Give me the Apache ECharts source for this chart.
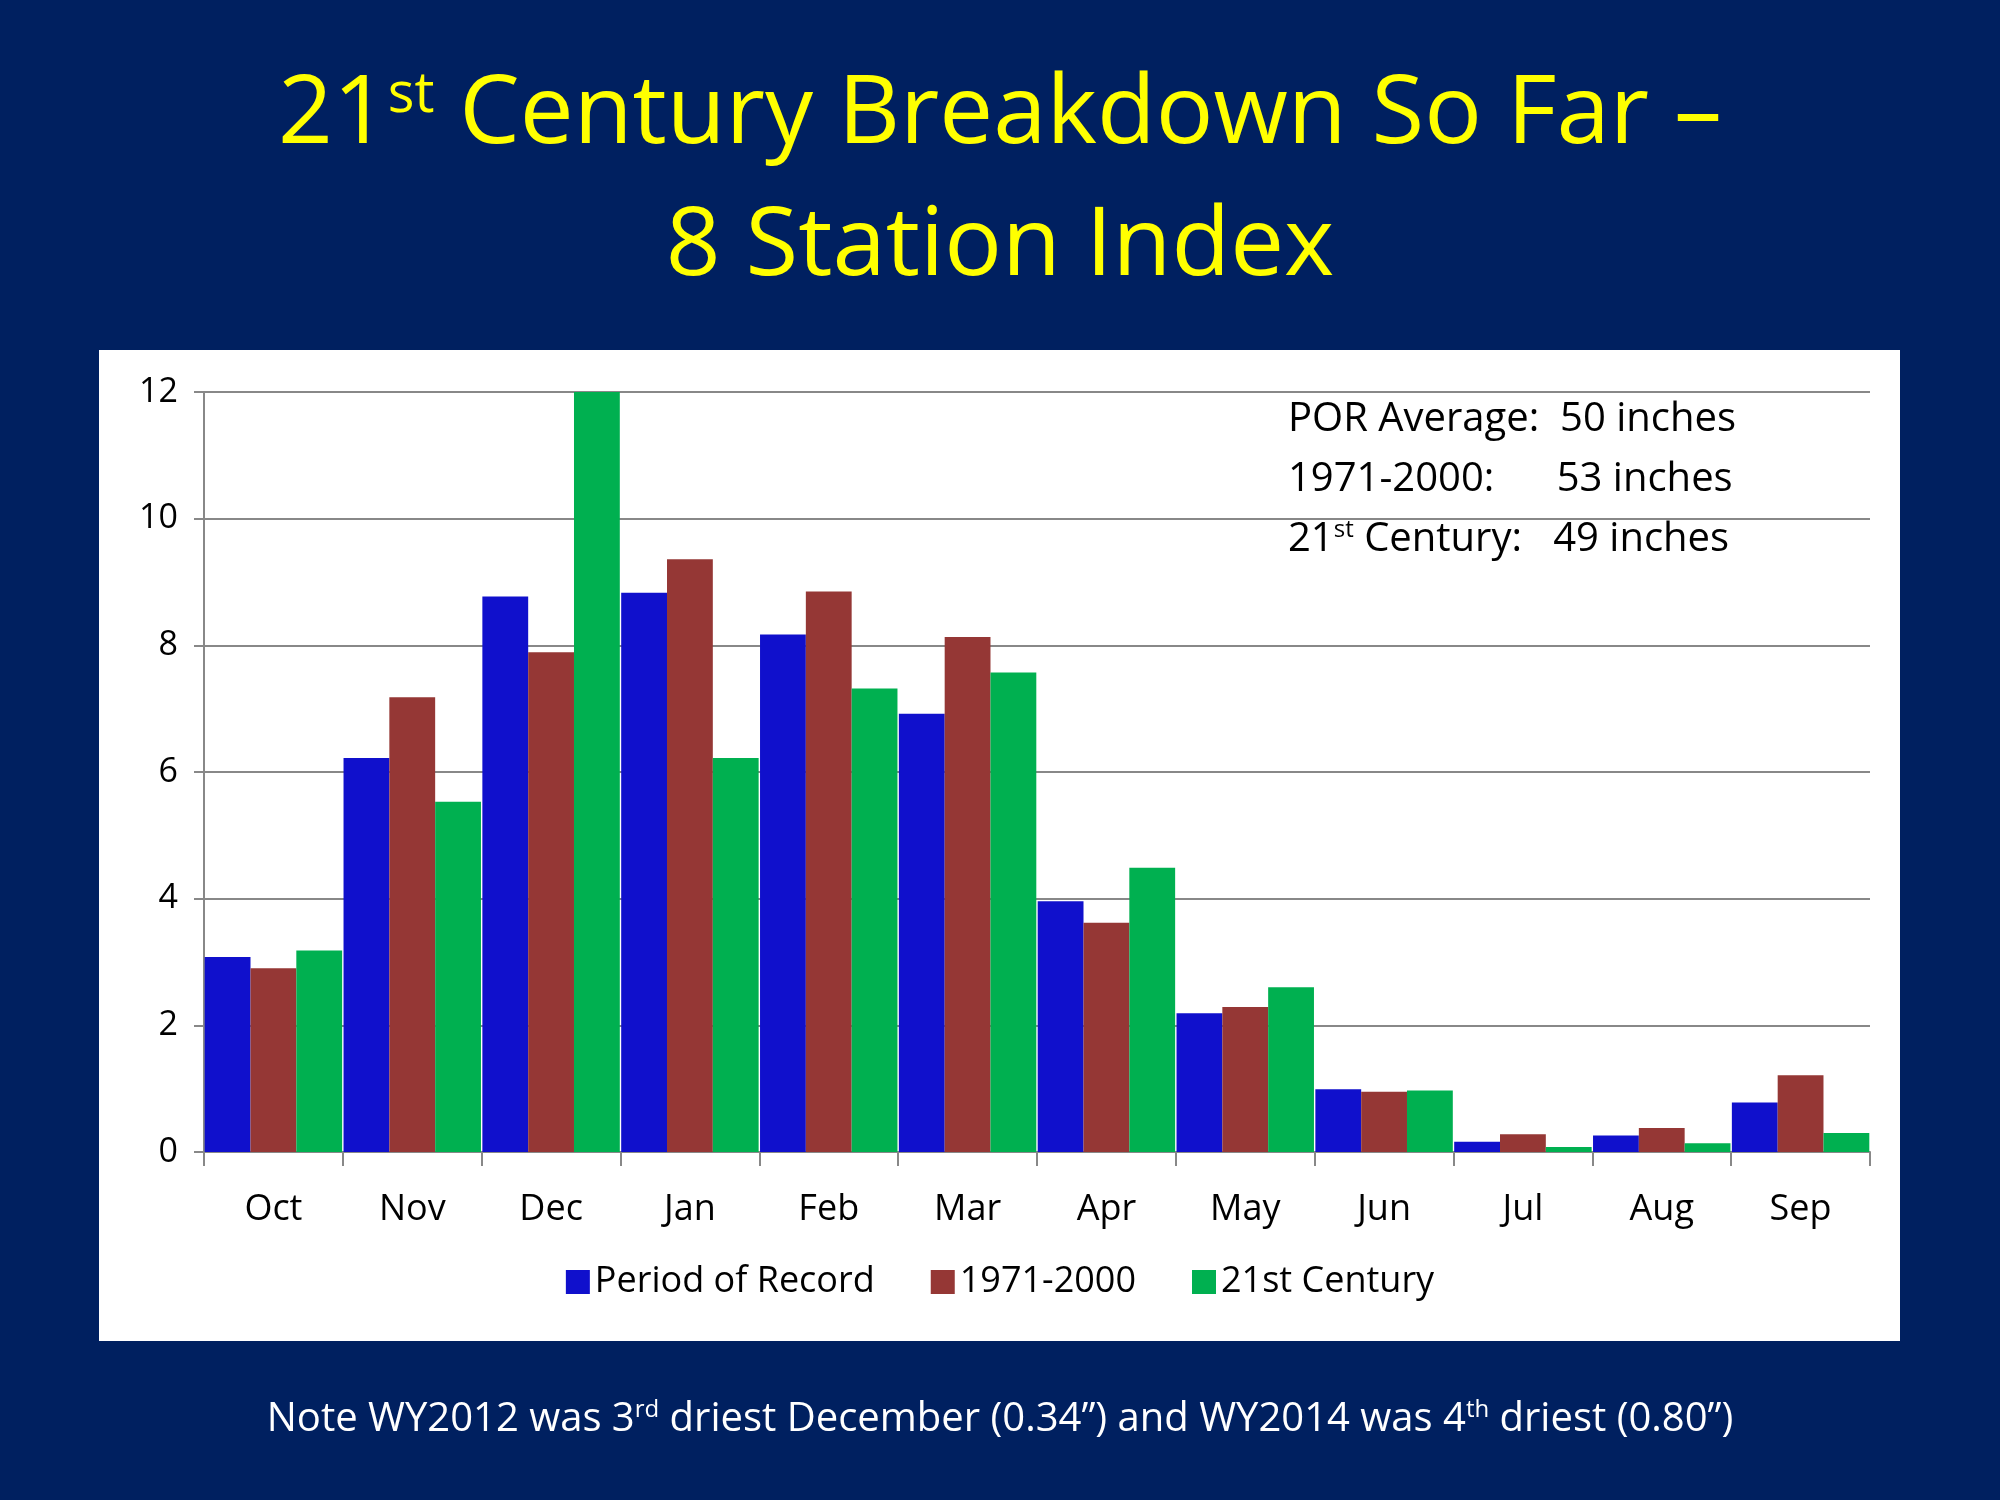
<!DOCTYPE html>
<html>
<head>
<meta charset="utf-8">
<script src="https://cdn.jsdelivr.net/npm/echarts@6/dist/echarts.min.js"></script>
<style>
  html, body { margin: 0; padding: 0; background: #002060; }
  #chart { width: 2000px; height: 1500px; }
</style>
</head>
<body>
<div id="chart"></div>
<script>
// months of the water year
var months = ['Oct', 'Nov', 'Dec', 'Jan', 'Feb', 'Mar', 'Apr', 'May', 'Jun', 'Jul', 'Aug', 'Sep'];
// monthly precipitation, inches
var periodOfRecord = [3.08, 6.22, 8.77, 8.83, 8.17, 6.92, 3.96, 2.19, 0.99, 0.16, 0.26, 0.78];
var normal7100 = [2.9, 7.18, 7.89, 9.36, 8.85, 8.13, 3.62, 2.29, 0.95, 0.28, 0.38, 1.21];
var century21 = [3.18, 5.53, 12.0, 6.22, 7.32, 7.57, 4.49, 2.6, 0.97, 0.08, 0.14, 0.3];
var seriesNames = ['Period of Record', '1971-2000', '21st Century'];
var yTicks = [0, 2, 4, 6, 8, 10, 12];

var font = '"Open Sans", "Noto Sans", sans-serif';
var chart = echarts.init(document.getElementById('chart'));

function bar(name, data, color) {
    return {
        name: name,
        type: 'bar',
        data: data,
        barGap: '0%',
        barCategoryGap: '1%',
        itemStyle: { color: color },
        animation: false
    };
}

chart.setOption({
    backgroundColor: '#002060',
    textStyle: { fontFamily: font },
    grid: { left: 204, right: 130, top: 392, bottom: 348 },
    legend: {
        data: seriesNames,
        bottom: 195,
        left: 'center',
        itemWidth: 24,
        itemHeight: 24,
        itemGap: 56,
        icon: 'rect',
        textStyle: { fontSize: 36, color: '#000', fontFamily: font }
    },
    xAxis: {
        type: 'category',
        data: months,
        axisLine: { lineStyle: { color: '#888', width: 2 } },
        axisTick: { show: true, length: 14, lineStyle: { color: '#888', width: 2 } },
        axisLabel: { fontSize: 36, color: '#000', margin: 40 }
    },
    yAxis: {
        type: 'value',
        min: 0,
        max: yTicks[yTicks.length - 1],
        interval: 2,
        axisLine: { show: true, lineStyle: { color: '#888', width: 2 } },
        axisTick: { show: true, length: 10, lineStyle: { color: '#888', width: 2 } },
        axisLabel: { fontSize: 34, color: '#000', margin: 26 },
        splitLine: { lineStyle: { color: '#888', width: 2 } }
    },
    graphic: [
        {
            type: 'rect', z: -10,
            shape: { x: 99, y: 350, width: 1801, height: 991 },
            style: { fill: '#ffffff' }
        },
        {
            type: 'text', left: 'center', top: 68,
            style: {
                text: '{n|21}{s|st}{n| Century Breakdown So Far –}',
                rich: {
                    n: { fontSize: 96, fill: '#ffff00', fontFamily: font },
                    s: { fontSize: 56, fill: '#ffff00', fontFamily: font, verticalAlign: 'top', padding: [0, 0, 40, 0] }
                }
            }
        },
        {
            type: 'text', left: 'center', top: 200,
            style: { text: '8 Station Index', fontSize: 96, fill: '#ffff00', fontFamily: font }
        },
        {
            type: 'text', left: 1288, top: 400,
            style: {
                text: '{a|POR Average:  50 inches}\n{a|1971-2000:      53 inches}\n{a|21}{s|st}{a| Century:   49 inches}',
                rich: {
                    a: { fontSize: 40, fill: '#000', fontFamily: font, lineHeight: 60 },
                    s: { fontSize: 24, fill: '#000', fontFamily: font, lineHeight: 60, padding: [0, 0, 20, 0] }
                }
            }
        },
        {
            type: 'text', left: 'center', top: 1398, x: 58,
            style: {
                text: '{a|Note WY2012 was 3}{s|rd}{a| driest December (0.34”) and WY2014 was 4}{s|th}{a| driest (0.80”)}',
                rich: {
                    a: { fontSize: 40, fill: '#ffffff', fontFamily: font },
                    s: { fontSize: 24, fill: '#ffffff', fontFamily: font, padding: [0, 0, 20, 0] }
                }
            }
        }
    ],
    series: [
        bar(seriesNames[0], periodOfRecord, '#1010cc'),
        bar(seriesNames[1], normal7100, '#953735'),
        bar(seriesNames[2], century21, '#00b050')
    ]
});
</script>
</body>
</html>
